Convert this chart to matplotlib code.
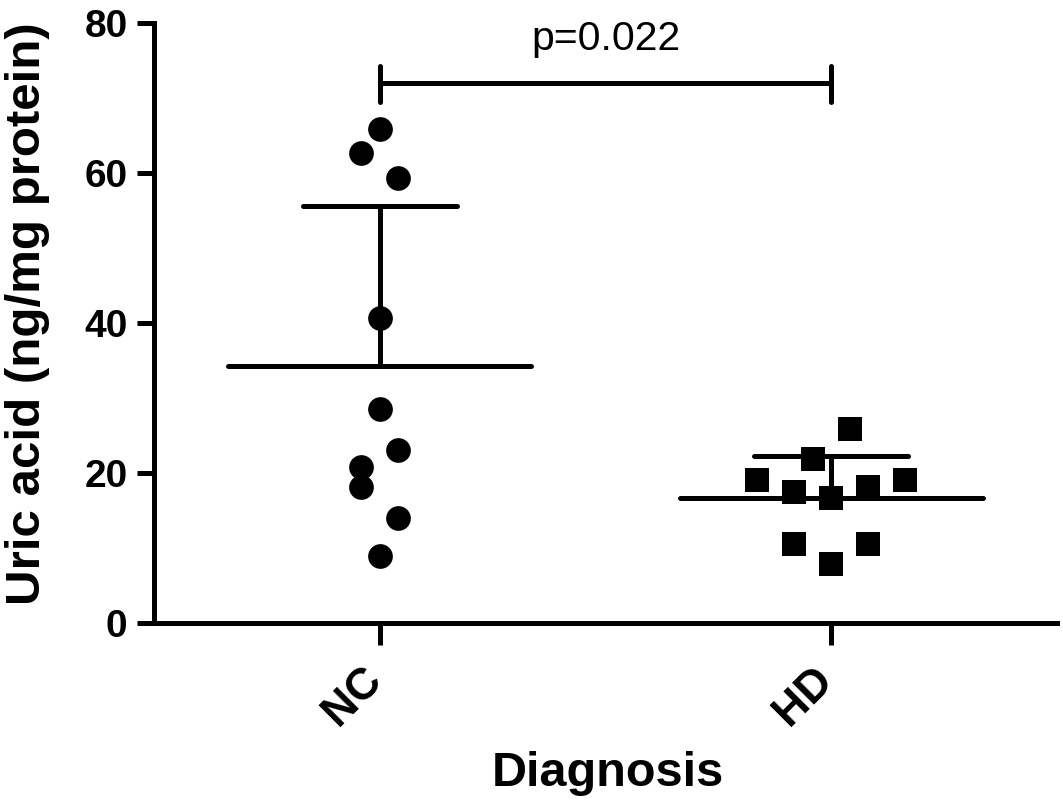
import numpy as np
import matplotlib
matplotlib.use("Agg")
import matplotlib.pyplot as plt
import matplotlib.transforms as mtransforms

plt.rcParams['font.family'] = ['Liberation Sans', 'DejaVu Sans']

groups = ["NC", "HD"]
nc_values = [65.9, 62.7, 59.3, 40.7, 28.5, 23.1, 20.8, 18.2, 14.0, 9.0]
hd_values = [25.9, 21.9, 19.1, 17.5, 16.7, 18.1, 19.1, 10.5, 10.5, 7.9]
# horizontal slot of each point (scatter layout, in marker widths)
nc_slots = [0, -1, 1, 0, 0, 1, -1, -1, 1, 0]
hd_slots = [1, -1, -4, -2, 0, 2, 4, -2, 2, 0]
p_text = "p=0.022"

fig = plt.figure(figsize=(10.63, 8.07), dpi=100)
ax = fig.add_axes([154 / 1063, 1 - 623 / 807, 903 / 1063, 600 / 807])

lw = 3.6
step = 0.041
series = [(nc_values, nc_slots, "o"), (hd_values, hd_slots, "s")]
for i, (vals, slots, mk) in enumerate(series):
    vals = np.array(vals)
    xs = i + np.array(slots) * step
    ax.plot(xs, vals, linestyle="none", marker=mk, markersize=17.8,
            markeredgewidth=0, color="black", zorder=3, clip_on=False)
    m = vals.mean()
    sd = vals.std(ddof=1)
    ax.plot([i - 0.336, i + 0.336], [m, m], color="black", lw=lw,
            solid_capstyle="round", zorder=2)
    ax.plot([i, i], [m, m + sd], color="black", lw=lw, zorder=2)
    ax.plot([i - 0.17, i + 0.17], [m + sd, m + sd], color="black", lw=lw,
            solid_capstyle="round", zorder=2)

# significance bracket
ax.plot([0, 1], [72, 72], color="black", lw=lw, clip_on=False)
ax.plot([0, 0], [69.5, 74.3], color="black", lw=lw, solid_capstyle="round", clip_on=False)
ax.plot([1, 1], [69.5, 74.3], color="black", lw=lw, solid_capstyle="round", clip_on=False)
ax.text(0.5, 76.4, p_text, ha="center", va="baseline", fontsize=29.5, clip_on=False)

ax.set_xlim(-0.5, 1.5)
ax.set_ylim(0, 80)
ax.set_yticks([0, 20, 40, 60, 80])
ax.set_xticks([0, 1])
ax.set_xticklabels(groups, rotation=45, ha="right", fontsize=32, fontweight="bold")
ax.tick_params(axis="y", labelsize=28, width=lw, length=12, pad=7)
ax.tick_params(axis="x", width=lw, length=16, pad=10)
for lab in ax.get_yticklabels():
    lab.set_fontweight("bold")
shift = mtransforms.ScaledTranslation(10 / 100, 0, fig.dpi_scale_trans)
for lab in ax.get_xticklabels():
    lab.set_transform(lab.get_transform() + shift)

for s in ["top", "right"]:
    ax.spines[s].set_visible(False)
for s in ["left", "bottom"]:
    ax.spines[s].set_linewidth(lw)

fig.text(40 / 1063, 1 - 314 / 807, "Uric acid (ng/mg protein)", rotation=90,
         rotation_mode="anchor", ha="center", va="baseline",
         fontsize=35.5, fontweight="bold")
fig.text(608 / 1063, 1 - 774 / 807, "Diagnosis", ha="center", va="center",
         fontsize=35, fontweight="bold")

fig.savefig("out.png", dpi=100)
